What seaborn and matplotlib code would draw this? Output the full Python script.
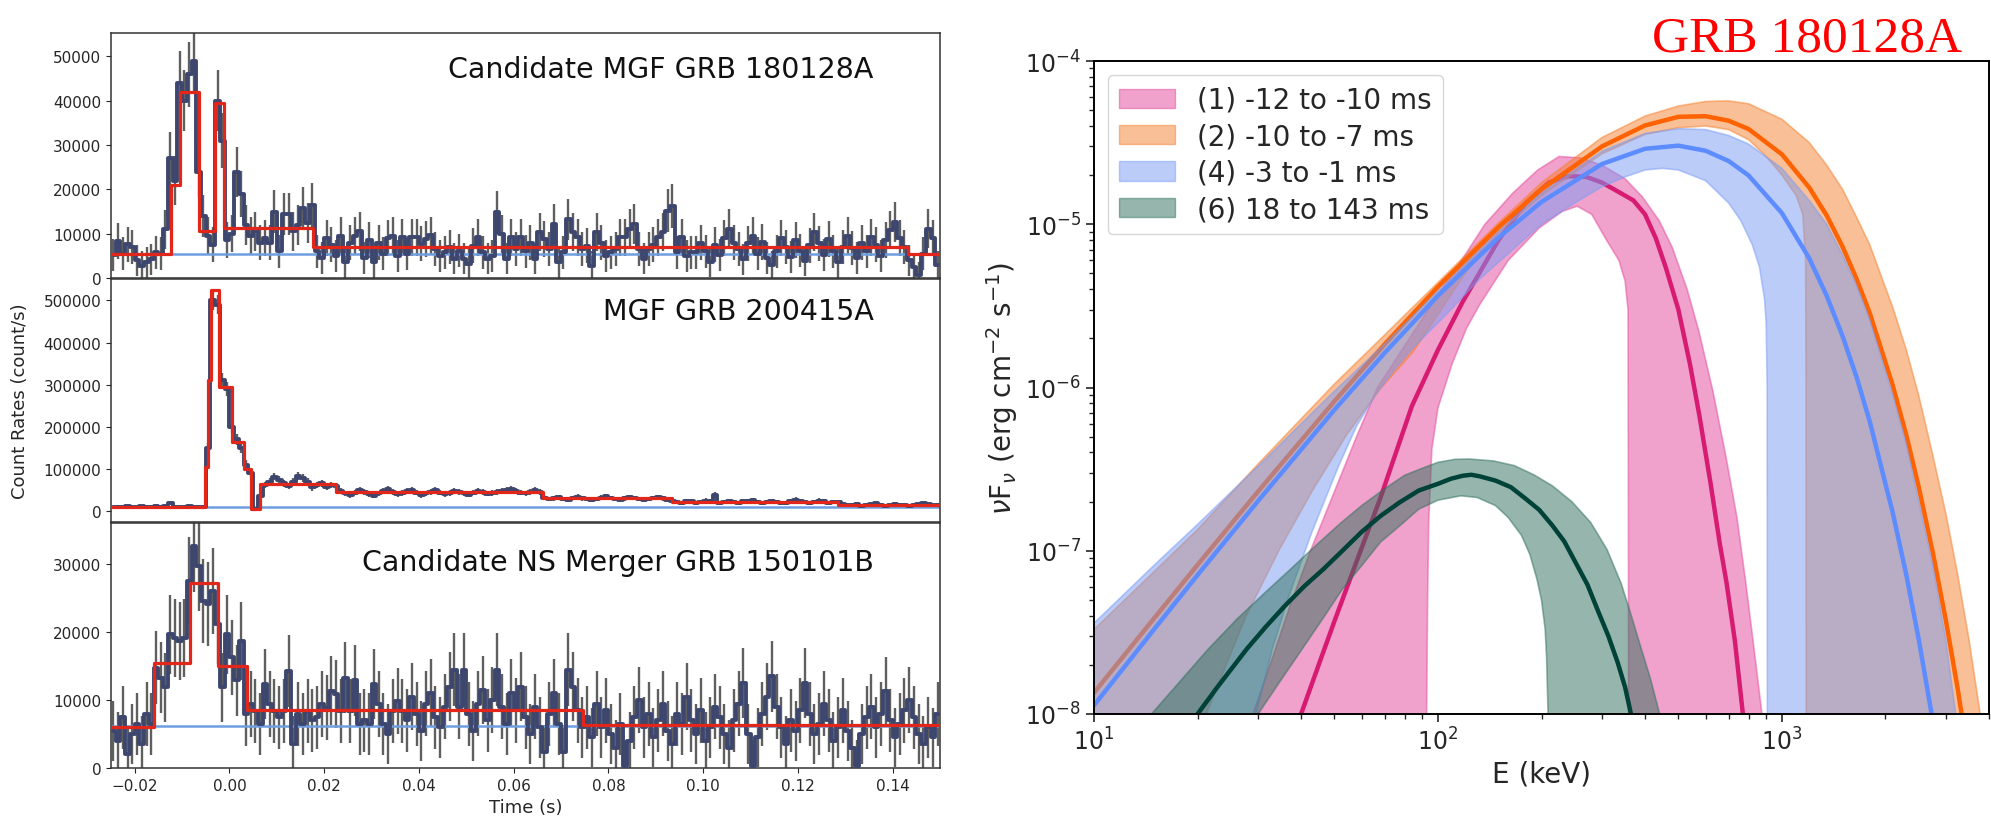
import numpy as np
import matplotlib
matplotlib.use("Agg")
import matplotlib.pyplot as plt
from matplotlib.patches import Patch
import seaborn as sns

sns.set_style("ticks")
plt.rcParams["font.family"] = ["DejaVu Sans"]

# ---------------- light curves (1 ms bins starting at -25 ms) ----------------
t_start = -0.025
dt = 0.001

rate_180128 = [
    5200, 8300, 5500, 7600, 7000, 4000, 2800, 3500, 4200, 5800, 5500, 11000,
    27000, 22000, 44000, 40000, 46000, 49000, 24000, 14000, 9500,
    7500, 40000, 31000, 8500,
    10000, 24000, 19000, 12000, 9500, 10500, 8000, 9000, 8000, 15000, 6000, 14500,
    14500, 10500, 12000, 15700, 12500, 16500,
    6000, 4500, 9000, 7500, 5000, 9500, 3500, 8000, 9500, 10500, 4500, 8500,
    3500, 8000, 5500, 9000, 9500, 5000,
    9200, 5400, 9200, 9200, 7700, 8800, 9600, 6500, 5000, 5800,
    7000, 4300, 6200, 4300, 3200, 7300, 9200, 5800, 4300, 5000,
    14800, 9900, 4300, 9200, 6500, 9200, 6000, 8000, 4300, 10300,
    8800, 6500, 12200, 3500, 5800, 13300, 10300, 9200, 6500, 7300,
    2800, 10300, 8000, 5000, 5800, 6500, 9200, 9200, 11100, 12200,
    6500, 4300, 6500, 7500, 9200, 10300, 15200, 16300, 5800, 9200,
    5000, 5800, 5800,
    8000, 6000, 3600, 7500, 5200, 9000, 11100, 8000, 6500, 4200, 7800, 9500,
    5500, 8200, 4500, 2900, 6000, 9000, 7000, 4800, 8500, 6200, 3800, 7400,
    10400, 7800, 5200, 8800, 6000, 3500, 7000, 9500, 6800, 4500, 8000, 6000,
    9200, 7500, 5000, 8600, 10800, 12600, 9000, 7000, 4000, 2500, 600, 5500,
    11100, 9000, 2900,
]
blocks_180128_t = [-0.025, -0.0123, -0.0104, -0.0065, -0.003, -0.0012, 0.0177, 0.1432, 0.15]
blocks_180128_r = [5500, 21000, 42000, 10500, 39600, 11200, 6900, 5500]
bkg_180128 = 5400

rate_200415 = [
    9500, 10500, 9800, 11000, 10200, 9000, 11500, 10800, 9600, 12500, 10000, 11200,
    19000, 9000, 8500, 10600, 11800, 10200, 9800, 10400,
    150000, 500000, 490000, 310000, 290000, 200000, 170000, 150000, 110000, 90000, 5000,
    35000,
    62000, 70000, 82000, 74000, 66000, 60000, 70000, 84000, 78000, 70000, 56000, 62000,
    66000, 58000, 62000, 60000,
    48000, 42000, 38000, 44000, 50000, 46000, 40000, 36000, 42000, 48000, 52000, 45000,
    40000, 43000, 47000, 50000, 44000, 38000, 42000,
    46000, 49000, 44000, 40000, 43000, 47000, 45000, 42000, 39000, 44000, 48000, 46000,
    41000, 43000, 45000, 47000, 50000, 52000, 48000, 44000, 42000, 46000, 49000, 45000,
    32000, 28000, 30000, 33000, 29000, 27000, 31000, 34000, 30000, 28000, 26000, 29000,
    32000, 35000, 31000, 28000, 27000, 30000, 33000, 31000, 28000, 26000, 29000, 31000,
    33000, 30000, 27000, 25000,
    22000, 20000, 24000, 23000, 19000, 21000, 25000, 23000, 38000, 18000, 21000, 24000,
    22000, 20000, 23000, 23000, 26000, 21000, 19000, 22000, 24000, 21000, 18000, 20000,
    23000, 27000, 24000, 21000, 19000, 22000, 25000, 23000, 20000, 21000, 22000,
    16000, 14000, 15000, 17000, 13000, 14500, 16000, 18000, 15000, 13000, 14000, 16500,
    15500, 14000, 13000, 15000, 17000, 19000, 16000, 14000, 15000,
]
blocks_200415_t = [-0.025, -0.00511, -0.00448, -0.00385, -0.00215, 0.00049, 0.00307,
                   0.00462, 0.00652, 0.02251, 0.06618, 0.09336, 0.12837, 0.15]
blocks_200415_r = [10500, 105000, 310000, 525000, 295000, 165000, 100000, 5000,
                   65000, 45000, 30000, 22000, 15000]
bkg_200415 = 10500

rate_150101 = [
    5500, 4000, 7500, 2000, 5000, 6500, 3500, 8000, 6500,
    14800, 13300, 11900, 19700, 19200, 18700, 19200,
    27600, 32700, 29800, 24600, 24200, 26100, 21200,
    11900, 19700, 16300, 12900, 18700, 8000, 9400, 8400, 6500, 12400,
    9400, 8400, 7500, 8400, 14300, 3500, 8000, 6500, 8400, 7000, 7500, 9400, 8900,
    11400, 10900, 8400, 13300, 8400, 12900, 6500, 7000, 6500, 12400, 9400, 6500, 5000,
    8400, 9900, 8400,
    7000, 10500, 8000, 5500, 9500, 11000, 7500, 6000, 9000, 12000, 14500, 9000,
    14500, 8000, 5500, 9500, 11500, 7000, 10000, 14500, 9000, 6500, 11000, 8500,
    12000, 7500, 5000, 9000, 6000, 2300, 8000, 11000, 6500, 2300, 14500, 12000,
    8500, 6000,
    7500, 4500, 9500, 6000, 8500, 5000, 3000, 6500, 300, 4000, 7500, 10000,
    6000, 8000, 4500, 7000, 9500, 5500, 3500, 8000, 6500, 10500, 7000, 5000,
    8500, 4000, 6000, 9000, 7500, 5000, 3000, 7000, 9500, 12500, 5000, 300,
    4500, 8000, 10500, 13500, 9000, 6000, 3500, 7000, 5500, 8500, 12500, 8000,
    5000, 6500, 9500, 7000, 4000, 6000, 8500, 5500, 3000, 300, 5000, 7500,
    9000, 6000, 8000, 11300, 7000, 4500, 6500, 8500, 10000, 7500, 5000, 3500,
    6000, 4500, 8000,
]
blocks_150101_t = [-0.025, -0.016, -0.0084, -0.0025, 0.0037, 0.0746, 0.15]
blocks_150101_r = [6100, 15500, 27300, 15000, 8600, 6300]
bkg_150101 = 6200

# ---------------- spectra of GRB 180128A (E in keV, nuFnu in erg/cm2/s) ----------------
s1_E = [40, 45, 50, 58, 68, 84, 100, 118, 150, 180, 210, 240, 270, 300, 340, 370,
        400, 430, 460, 500, 540, 575, 620, 660, 690, 730, 770, 800]
s1_F = [1.0e-8, 2.0e-8, 3.7e-8, 8.6e-8, 2.1e-7, 7.7e-7, 1.7e-6, 3.35e-6, 8.0e-6,
        1.35e-5, 1.8e-5, 1.97e-5, 1.95e-5, 1.8e-5, 1.55e-5, 1.4e-5, 1.15e-5, 8.2e-6,
        5.4e-6, 3.0e-6, 1.4e-6, 6.8e-7, 2.6e-7, 1.1e-7, 6.4e-8, 2.8e-8, 1.0e-8, 5e-9]
s1_up_E = [27, 29, 33, 37, 42.6, 50, 58, 66.7, 80, 100, 120, 137, 165, 195, 225, 260,
           300, 350, 393, 440, 480, 530, 574, 630, 687, 740, 785, 830, 875, 900]
s1_up_F = [6e-9, 1e-8, 2.2e-8, 4.5e-8, 1e-7, 2.3e-7, 5e-7, 1e-6, 1.8e-6, 3.7e-6,
           6.5e-6, 1e-5, 1.55e-5, 2.15e-5, 2.6e-5, 2.55e-5, 2.3e-5, 1.9e-5, 1.47e-5,
           1.05e-5, 7.2e-6, 4.0e-6, 2.2e-6, 9.5e-7, 3.8e-7, 1.6e-7, 6.4e-8, 2.5e-8,
           1e-8, 6e-9]
s1_lo_E = [92, 92.7, 93.3, 94, 96, 100, 110, 121, 132, 160, 197, 230, 254, 280, 308,
           336, 350, 357, 358, 358.5]
s1_lo_F = [1e-10, 1e-8, 5e-8, 1.5e-7, 4.2e-7, 7.5e-7, 1.4e-6, 2.3e-6, 3.2e-6, 6.0e-6,
           9.5e-6, 1.2e-5, 1.29e-5, 1.15e-5, 8.1e-6, 6.0e-6, 4.5e-6, 3e-6, 1e-7, 1e-10]

s2_E = [10, 15, 20, 30, 50, 70, 100, 150, 200, 300, 400, 500, 600, 700, 800, 1000,
        1200, 1350, 1500, 1650, 1800, 2100, 2300, 2500, 2750, 3000, 3250, 3500]
s2_F = [1.35e-8, 3.89e-8, 8.2e-8, 2.31e-7, 8.24e-7, 1.84e-6, 4.14e-6, 9.6e-6, 1.64e-5,
        3.0e-5, 4.03e-5, 4.55e-5, 4.59e-5, 4.31e-5, 3.83e-5, 2.68e-5, 1.68e-5, 1.13e-5,
        7.3e-6, 4.6e-6, 2.86e-6, 1.03e-6, 5.1e-7, 2.45e-7, 9.6e-8, 3.7e-8, 1.39e-8, 5.1e-9]
s2_up_E = [10, 15, 20, 30, 50, 70, 100, 150, 200, 300, 400, 500, 600, 700, 800, 1000,
           1200, 1350, 1500, 1650, 1800, 2100, 2300, 2500, 2750, 3000, 3250, 3500, 3800, 4000]
s2_up_F = [3.3e-8, 7.5e-8, 1.35e-7, 3.4e-7, 1.05e-6, 2.1e-6, 4.4e-6, 1.02e-5, 1.8e-5,
           3.4e-5, 4.6e-5, 5.3e-5, 5.65e-5, 5.7e-5, 5.47e-5, 4.4e-5, 3.17e-5, 2.3e-5,
           1.64e-5, 1.1e-5, 7.5e-6, 3.1e-6, 1.7e-6, 8.9e-7, 3.8e-7, 1.67e-7, 7e-8,
           2.85e-8, 9e-9, 4.6e-9]
s2_lo_E = [10, 15, 21.2, 27.7, 34.7, 43.3, 54.2, 67.7, 84.6, 100, 120, 150, 200, 300,
           400, 500, 600, 700, 800, 900, 1000, 1100, 1150, 1172, 1175, 1177]
s2_lo_F = [1e-9, 3e-9, 1e-8, 4.0e-8, 1.03e-7, 2.36e-7, 5.1e-7, 9.7e-7, 1.65e-6, 2.8e-6,
           5.0e-6, 8.8e-6, 1.5e-5, 2.7e-5, 3.55e-5, 3.9e-5, 4.0e-5, 3.8e-5, 3.3e-5,
           2.6e-5, 2.0e-5, 1.5e-5, 1.15e-5, 6e-6, 1e-6, 1e-10]

s4_E = [10, 15, 20, 30, 50, 70, 100, 150, 200, 300, 400, 500, 600, 700, 800, 1000,
        1200, 1350, 1500, 1650, 1800, 2100, 2300, 2500, 2750, 3000]
s4_F = [1.13e-8, 3.33e-8, 7.1e-8, 2.02e-7, 7.3e-7, 1.63e-6, 3.65e-6, 8.3e-6, 1.37e-5,
        2.34e-5, 2.9e-5, 3.03e-5, 2.82e-5, 2.44e-5, 1.99e-5, 1.17e-5, 6.2e-6, 3.64e-6,
        2.07e-6, 1.15e-6, 6.2e-7, 1.71e-7, 7.1e-8, 2.85e-8, 8.9e-9, 2.7e-9]
s4_up_E = [10, 15, 20, 30, 50, 70, 100, 150, 200, 300, 400, 500, 600, 700, 800, 1000,
           1200, 1350, 1500, 1650, 1800, 2100, 2300, 2500, 2750, 3000, 3200, 3500]
s4_up_F = [3.6e-8, 8.2e-8, 1.45e-7, 3.3e-7, 9.5e-7, 1.85e-6, 3.9e-6, 9.0e-6, 1.55e-5,
           2.8e-5, 3.6e-5, 3.85e-5, 3.8e-5, 3.5e-5, 3.1e-5, 2.2e-5, 1.4e-5, 1.0e-5,
           6.5e-6, 4.2e-6, 2.6e-6, 9e-7, 4.5e-7, 2.0e-7, 8e-8, 2.8e-8, 1e-8, 2e-9]
s4_lo_E = [10, 25, 29.6, 33, 36.9, 43, 51.4, 58, 65.6, 75, 84.6, 105.7, 132, 165, 200,
           250, 300, 350, 400, 450, 500, 600, 700, 760, 820, 860, 890, 900, 906, 908]
s4_lo_F = [1e-10, 3e-9, 1e-8, 2.5e-8, 5.3e-8, 1.3e-7, 3.3e-7, 5.8e-7, 8.9e-7, 1.3e-6,
           1.75e-6, 2.8e-6, 4.6e-6, 7.0e-6, 1.0e-5, 1.35e-5, 1.7e-5, 1.95e-5, 2.15e-5,
           2.2e-5, 2.15e-5, 1.85e-5, 1.35e-5, 1.05e-5, 7.5e-6, 5.5e-6, 3.5e-6, 2.5e-6,
           1e-6, 1e-10]

s6_E = [20, 23, 27.8, 31.5, 35.9, 41, 46.4, 53, 59.9, 68, 77.4, 88, 100, 109, 118, 125,
        132, 147, 163, 180, 197, 215, 233, 251, 272, 293, 313, 333, 350, 364, 380]
s6_F = [1.0e-8, 1.49e-8, 2.5e-8, 3.4e-8, 4.6e-8, 6.1e-8, 7.7e-8, 1.01e-7, 1.3e-7,
        1.63e-7, 1.98e-7, 2.34e-7, 2.57e-7, 2.76e-7, 2.88e-7, 2.92e-7, 2.86e-7, 2.69e-7,
        2.45e-7, 2.08e-7, 1.78e-7, 1.43e-7, 1.14e-7, 8.5e-8, 6.2e-8, 4.2e-8, 3.0e-8,
        2.07e-8, 1.46e-8, 1.0e-8, 6.8e-9]
s6_up_E = [12, 14.7, 18, 21.5, 26, 31.6, 37.5, 44, 52, 60, 70, 80, 90, 100, 112, 123,
           145, 167, 190, 215, 245, 278, 310, 341, 365, 388, 415, 441, 465]
s6_up_F = [6.3e-9, 1e-8, 1.63e-8, 2.5e-8, 3.8e-8, 5.6e-8, 7.8e-8, 1.07e-7, 1.47e-7,
           1.89e-7, 2.4e-7, 2.9e-7, 3.2e-7, 3.48e-7, 3.63e-7, 3.65e-7, 3.55e-7, 3.32e-7,
           2.92e-7, 2.5e-7, 2.0e-7, 1.49e-7, 1.02e-7, 6.3e-8, 4.0e-8, 2.6e-8, 1.64e-8,
           1e-8, 6.6e-9]
s6_lo_E = [26, 30, 35, 40.8, 46.5, 52.7, 60, 68.1, 78, 88, 100, 116.6, 130, 147, 160,
           175, 185, 194, 200, 205, 207, 209, 209.5]
s6_lo_F = [4e-9, 1e-8, 1.62e-8, 2.6e-8, 3.9e-8, 5.8e-8, 8.1e-8, 1.13e-7, 1.44e-7,
           1.8e-7, 2.04e-7, 2.17e-7, 2.12e-7, 1.89e-7, 1.6e-7, 1.24e-7, 9.5e-8, 6.7e-8,
           5e-8, 3.3e-8, 2.2e-8, 1e-8, 1e-10]

spec_labels = ["(1) -12 to -10 ms", "(2) -10 to -7 ms", "(4) -3 to -1 ms", "(6) 18 to 143 ms"]
fill_colors = ["#e4479a", "#f5802e", "#7a9bf5", "#2f6f5c"]
line_colors = ["#d81b72", "#ff6200", "#5c8cff", "#004238"]

# ---------------- figure ----------------
fig = plt.figure(figsize=(19.91, 8.2), dpi=100)

lc_left, lc_width = 111 / 1991, 829 / 1991
panel_px = [(34, 279), (280, 523), (524, 769)]
axes_lc = []
for top, bot in panel_px:
    ax = fig.add_axes([lc_left, 1 - bot / 820, lc_width, (bot - top) / 820],
                      sharex=axes_lc[0] if axes_lc else None)
    axes_lc.append(ax)


def lightcurve(ax, rates, blk_t, blk_r, bkg, err_extra, title, title_y):
    rates = np.asarray(rates, dtype=float)
    t_mid = t_start + dt * (np.arange(len(rates)) + 0.5)
    err = np.sqrt((np.clip(rates, 0, None) + err_extra) * dt) / dt
    ax.errorbar(t_mid, rates, yerr=err, fmt="none", ecolor="#5f5f5f",
                elinewidth=1.7, zorder=1)
    ax.axhline(bkg, color="#6f9ee0", lw=1.8, zorder=2)
    sns.lineplot(x=t_mid, y=rates, drawstyle="steps-mid", color="#3d466e",
                 lw=2.8, estimator=None, ax=ax, zorder=3)
    sns.lineplot(x=blk_t, y=list(blk_r) + [blk_r[-1]], drawstyle="steps-post",
                 color="#e2261a", lw=2.3, estimator=None, ax=ax, zorder=4)
    ax.text(0.92, title_y, title, transform=ax.transAxes, ha="right", va="center",
            fontsize=20.5, color="#111111")
    ax.tick_params(labelsize=11)
    for sp in ax.spines.values():
        sp.set_linewidth(1.1)
        sp.set_color("#333333")


lightcurve(axes_lc[0], rate_180128, blocks_180128_t, blocks_180128_r, bkg_180128,
           8000, "Candidate MGF GRB 180128A", 0.855)
lightcurve(axes_lc[1], rate_200415, blocks_200415_t, blocks_200415_r, bkg_200415,
           0, "MGF GRB 200415A", 0.87)
lightcurve(axes_lc[2], rate_150101, blocks_150101_t, blocks_150101_r, bkg_150101,
           14000, "Candidate NS Merger GRB 150101B", 0.84)

axes_lc[0].set_ylim(0, 55300)
axes_lc[1].set_ylim(-26000, 551000)
axes_lc[2].set_ylim(0, 36100)
axes_lc[2].set_yticks([0, 10000, 20000, 30000])
axes_lc[2].set_xlim(-0.025, 0.15)
axes_lc[2].set_xticks(np.round(np.arange(-0.02, 0.141, 0.02), 2))
for ax in axes_lc[:2]:
    ax.tick_params(labelbottom=False)
for ax in axes_lc:
    ax.set_ylabel("")
axes_lc[2].set_xlabel("Time (s)", fontsize=13)
fig.text(20 / 1991, 1 - 401 / 820, "Count Rates (count/s)", rotation=90,
         ha="center", va="center", fontsize=13)

# spectra panel
axs = fig.add_axes([1094 / 1991, 1 - 715 / 820, 895 / 1991, 653 / 820])
axs.set_xscale("log")
axs.set_yscale("log")

bands = [
    (s1_up_E, s1_up_F, s1_lo_E, s1_lo_F, s1_E, s1_F),
    (s2_up_E, s2_up_F, s2_lo_E, s2_lo_F, s2_E, s2_F),
    (s4_up_E, s4_up_F, s4_lo_E, s4_lo_F, s4_E, s4_F),
    (s6_up_E, s6_up_F, s6_lo_E, s6_lo_F, s6_E, s6_F),
]
# each band and its line drawn in turn, so later bands tint earlier lines
for i, ((uE, uF, lE, lF, cE, cF), fc, lc) in enumerate(zip(bands, fill_colors, line_colors)):
    axs.fill(list(uE) + list(lE)[::-1], list(uF) + list(lF)[::-1],
             facecolor=fc, edgecolor=fc, alpha=0.5, lw=1.2, zorder=2 * i + 1)
    sns.lineplot(x=cE, y=cF, color=lc, lw=3.2, estimator=None, ax=axs,
                 zorder=2 * i + 2)

axs.set_xlim(10, 4000)
axs.set_ylim(1e-8, 1e-4)
axs.set_xlabel("E (keV)", fontsize=20)
axs.set_ylabel(r"$\nu$F$_\nu$ (erg cm$^{-2}$ s$^{-1}$)", fontsize=20)
axs.tick_params(which="major", labelsize=17, length=6, width=1.2)
axs.tick_params(which="minor", length=3.5, width=1.0)
for sp in axs.spines.values():
    sp.set_linewidth(1.4)
    sp.set_color("black")
    sp.set_zorder(20)

handles = [Patch(facecolor=fc, edgecolor=fc, alpha=0.5) for fc in fill_colors]
leg = axs.legend(handles, spec_labels, loc="upper left", fontsize=20, labelspacing=0.3,
                 framealpha=0.8, edgecolor="#cccccc")
leg.set_zorder(30)

fig.text(1962 / 1991, 1 - 51 / 820, "GRB 180128A", color="red", fontsize=37,
         family="Liberation Serif", ha="right", va="baseline")

fig.savefig("out.png", dpi=100)
